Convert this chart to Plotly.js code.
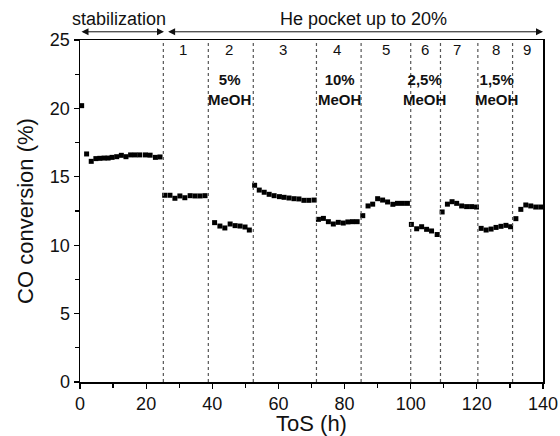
<!DOCTYPE html>
<html>
<head>
<meta charset="utf-8">
<script src="https://cdn.plot.ly/plotly-3.0.1.min.js"></script>
<style>html,body{margin:0;padding:0;background:#fff;}#chart{width:560px;height:436px;}</style>
</head>
<body>
<div id="chart"></div>
<script>
// ToS (h)
const tos = [
  0.5, 2.0, 3.4, 4.8, 6.0, 7.3, 8.5, 9.7, 11.1, 12.5, 13.9, 15.3, 16.7, 18.1, 19.8, 21.2, 22.8, 24.2,
  25.6, 27.2, 28.7, 30.2, 31.7, 33.3, 34.8, 36.3, 37.8,
  40.7, 42.3, 43.8, 45.4, 46.9, 48.4, 49.9, 51.2,
  52.8, 54.2, 55.7, 57.2, 58.7, 60.3, 61.7, 63.2, 64.7, 66.2, 67.7, 69.2, 70.8,
  72.1, 73.6, 75.1, 76.6, 78.1, 79.6, 81.0, 82.4, 83.8,
  85.5, 87.1, 88.5, 90.0, 91.5, 93.0, 94.6, 96.0, 97.5, 99.0,
  100.2, 101.8, 103.3, 104.8, 106.3, 108.0,
  109.5, 111.1, 112.5, 113.9, 115.4, 116.9, 118.4, 119.9,
  121.3, 122.8, 124.3, 125.8, 127.3, 128.8, 130.2,
  131.8, 133.3, 134.8, 136.3, 137.8, 139.3
];
// CO conversion (%)
const conversion = [
  20.2, 16.67, 16.13, 16.33, 16.35, 16.37, 16.37, 16.42, 16.47, 16.57, 16.47, 16.6, 16.6, 16.6, 16.6, 16.58, 16.42, 16.45,
  13.65, 13.65, 13.43, 13.6, 13.47, 13.62, 13.6, 13.6, 13.62,
  11.65, 11.4, 11.26, 11.55, 11.43, 11.4, 11.33, 11.11,
  14.38, 14.03, 13.87, 13.72, 13.62, 13.55, 13.5, 13.45, 13.4, 13.38, 13.28, 13.28, 13.3,
  11.89, 11.96, 11.72, 11.55, 11.67, 11.62, 11.7, 11.72, 11.72,
  12.16, 12.87, 13.0, 13.4, 13.3, 13.16, 12.99, 13.06, 13.06, 13.06,
  11.52, 11.2, 11.35, 11.16, 11.04, 10.78,
  12.43, 13.0, 13.18, 13.06, 12.87, 12.82, 12.82, 12.79,
  11.23, 11.11, 11.18, 11.3, 11.38, 11.45, 11.35,
  11.94, 12.62, 12.94, 12.87, 12.79, 12.79
];
// Period boundaries (h)
const boundaries = [25.2, 38.8, 52.4, 71.5, 85, 100, 109, 120.3, 130.8];
// Period numbers and their centre positions (h)
const periodLabels = ["1", "2", "3", "4", "5", "6", "7", "8", "9"];
const periodX = [31.2, 45.1, 61.4, 77.7, 92.5, 104.3, 114, 125.8, 135.2];
// MeOH labels
const meohLabels = ["5%<br>MeOH", "10%<br>MeOH", "2,5%<br>MeOH", "1,5%<br>MeOH"];
const meohX = [45.2, 78.5, 104.3, 126.0];
// Phases on top
const phaseLabels = ["stabilization", "He pocket up to 20%"];
const phaseStart = [0, 26.2];
const phaseEnd = [25.4, 140];
const phaseTextX = [11.8, 85.7];

const FONT = "Liberation Sans, Arial, Helvetica, sans-serif";

const shapes = boundaries.map(b => ({
  type: "line", xref: "x", yref: "paper", x0: b, x1: b, y0: 0, y1: 1,
  line: {color: "#555", width: 1.2, dash: "dot"}
}));

const annotations = [];
periodLabels.forEach((t, i) => annotations.push({
  x: periodX[i], y: 24.3, xref: "x", yref: "y", text: t, showarrow: false,
  xanchor: "center", yanchor: "middle",
  font: {family: FONT, size: 15, color: "#111"}
}));
meohLabels.forEach((t, i) => annotations.push({
  x: meohX[i], y: 21.35, xref: "x", yref: "y", text: "<b>" + t + "</b>", showarrow: false,
  xanchor: "center", yanchor: "middle",
  font: {family: FONT, size: 15, color: "#111"}
}));
phaseLabels.forEach((t, i) => {
  annotations.push({
    x: phaseTextX[i], y: 1.06, xref: "x", yref: "paper", text: t, showarrow: false,
    xanchor: "center", yanchor: "middle",
    font: {family: FONT, size: 18, color: "#111"}
  });
  annotations.push({
    x: phaseEnd[i], y: 1.024, xref: "x", yref: "paper",
    ax: phaseStart[i], ay: 0, axref: "x", ayref: "pixel",
    text: "", showarrow: true, arrowhead: 2, startarrowhead: 2, arrowside: "end+start",
    arrowsize: 1.4, startarrowsize: 1.4, arrowwidth: 1, arrowcolor: "#111", standoff: 0, startstandoff: 0
  });
});

const trace = {
  x: tos, y: conversion, type: "scatter", mode: "markers",
  marker: {symbol: "square", size: 5, color: "#000"},
  cliponaxis: false, showlegend: false
};

const layout = {
  width: 560, height: 436,
  margin: {l: 80, r: 17, t: 40, b: 54},
  paper_bgcolor: "#fff", plot_bgcolor: "#fff",
  font: {family: FONT, color: "#111"},
  xaxis: {
    range: [0, 140], tickvals: [0, 20, 40, 60, 80, 100, 120, 140],
    ticks: "outside", ticklen: 5, tickwidth: 1.2, tickcolor: "#000",
    minor: {tickvals: [10, 30, 50, 70, 90, 110, 130], ticks: "outside", ticklen: 4, tickwidth: 1.2, tickcolor: "#000"},
    showline: true, linecolor: "#000", linewidth: 1.5, mirror: true,
    showgrid: false, zeroline: false,
    tickfont: {family: FONT, size: 18, color: "#111"},
    title: {text: "ToS (h)", font: {family: FONT, size: 22, color: "#111"}, standoff: 2}
  },
  yaxis: {
    range: [0, 25], tickvals: [0, 5, 10, 15, 20, 25],
    ticks: "outside", ticklen: 5, tickwidth: 1.2, tickcolor: "#000",
    minor: {tickvals: [2.5, 7.5, 12.5, 17.5, 22.5], ticks: "outside", ticklen: 4, tickwidth: 1.2, tickcolor: "#000"},
    showline: true, linecolor: "#000", linewidth: 1.5, mirror: true,
    showgrid: false, zeroline: false,
    tickfont: {family: FONT, size: 18, color: "#111"},
    title: {text: "CO conversion (%)", font: {family: FONT, size: 22, color: "#111"}, standoff: 10}
  },
  shapes: shapes,
  annotations: annotations
};

Plotly.newPlot("chart", [trace], layout, {displayModeBar: false, staticPlot: true});
</script>
</body>
</html>
